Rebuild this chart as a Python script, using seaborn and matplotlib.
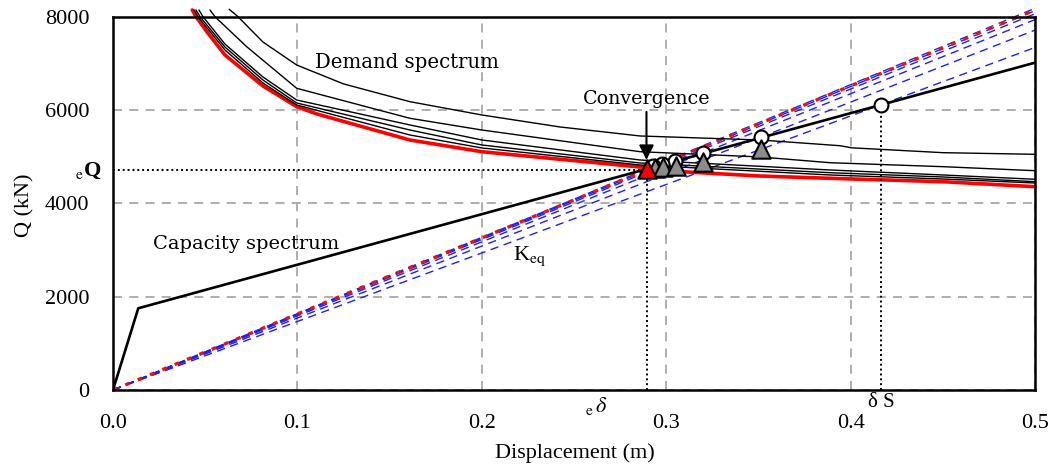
import numpy as np
import pandas as pd
import matplotlib
matplotlib.use("Agg")
import matplotlib.pyplot as plt
import seaborn as sns

# ---------------- data ----------------
cap_x = [0.0, 0.0137, 0.5]
cap_y = [0.0, 1751, 7015]

d1_x = [0.0630, 0.0678, 0.0813, 0.0996, 0.1250, 0.161, 0.200, 0.2424, 0.2858, 0.3509, 0.3943, 0.4006, 0.4501, 0.500]
d1_y = [8160, 8000, 7458, 6965, 6560, 6179, 5894, 5637, 5444, 5358, 5235, 5190, 5086, 5051]
d2_x = [0.0526, 0.0553, 0.0725, 0.0996, 0.161, 0.200, 0.2858, 0.3509, 0.3888, 0.4501, 0.500]
d2_y = [8144, 8000, 7357, 6466, 5823, 5572, 5107, 4994, 4871, 4786, 4700]
d3_x = [0.0466, 0.0488, 0.0607, 0.0813, 0.0996, 0.161, 0.200, 0.2858, 0.3888, 0.4501, 0.500]
d3_y = [8144, 8000, 7415, 6708, 6215, 5680, 5358, 4929, 4715, 4608, 4516]
d4_x = [0.0450, 0.0472, 0.0607, 0.0813, 0.0996, 0.161, 0.200, 0.2858, 0.3888, 0.4501, 0.500]
d4_y = [8144, 8000, 7351, 6644, 6151, 5572, 5251, 4865, 4657, 4565, 4464]
d5_x = [0.0440, 0.0461, 0.0607, 0.0813, 0.0996, 0.161, 0.200, 0.2858, 0.3888, 0.4501, 0.500]
d5_y = [8144, 8000, 7287, 6580, 6108, 5465, 5187, 4822, 4608, 4522, 4436]
red_x = [0.0430, 0.0450, 0.0510, 0.0607, 0.0813, 0.0996, 0.1106, 0.161, 0.200, 0.2858, 0.3113, 0.3509, 0.3888, 0.4501, 0.500]
red_y = [8144, 8000, 7673, 7180, 6515, 6072, 5915, 5358, 5107, 4779, 4672, 4586, 4537, 4464, 4357]

circ_x = [0.4165, 0.3514, 0.3200, 0.3048, 0.2977, 0.2928]
circ_y = [6115, 5420, 5080, 4915, 4840, 4790]
tri_x = [0.3514, 0.3200, 0.3053, 0.2983, 0.2939]
tri_y = [5165, 4887, 4801, 4780, 4758]
conv_x = [0.2896]
conv_y = [4736]

e_delta = 0.2897
e_Q = 4720
delta_s = 0.4165
delta_s_Q = 6115

x_ticks = [0.0, 0.1, 0.2, 0.3, 0.4, 0.5]
x_labels = ["0.0", "0.1", "0.2", "0.3", "0.4", "0.5"]
y_ticks = [0, 2000, 4000, 6000, 8000]
y_labels = ["0", "2000", "4000", "6000", "8000"]

# ---------------- figure ----------------
sns.set_theme(style="white")
plt.rcParams['font.family'] = ['Liberation Serif', 'DejaVu Serif']
plt.rcParams['mathtext.fontset'] = 'stix'
plt.rcParams['text.color'] = 'black'
plt.rcParams['axes.labelcolor'] = 'black'

fig = plt.figure(figsize=(10.53, 4.70), dpi=100)
ax = fig.add_axes([113/1053, 1-390/470, 922/1053, (390-16.7)/470])
ax.set_xlim(0, 0.5)
ax.set_ylim(0, 8000)

ax.set_axisbelow(True)
ax.grid(True, color='#a8a8a8', linestyle=(0, (5, 4)), linewidth=1.3)

# Keq lines
for cx, cy in zip(circ_x, circ_y):
    k = cy / cx
    sns.lineplot(x=[0.0, 0.5], y=[0.0, 0.5 * k], ax=ax, color='#2020ee', lw=1.0,
                 linestyle=(0, (6, 4)), clip_on=False, sort=False, estimator=None, zorder=3)
kr = e_Q / e_delta
sns.lineplot(x=[0.0, 0.5], y=[0.0, 0.5 * kr], ax=ax, color='#ee1010', lw=2.4,
             linestyle=(0, (1.4, 2.6)), clip_on=False, sort=False, estimator=None, zorder=3)

# demand curves
for xs, ys in [(d1_x, d1_y), (d2_x, d2_y), (d3_x, d3_y), (d4_x, d4_y), (d5_x, d5_y)]:
    sns.lineplot(x=xs, y=ys, ax=ax, color='black', lw=1.0, sort=False,
                 estimator=None, clip_on=False, zorder=4)
sns.lineplot(x=red_x, y=red_y, ax=ax, color='#ff0000', lw=2.6, sort=False,
             estimator=None, clip_on=False, zorder=3.9)

# capacity curve
sns.lineplot(x=cap_x, y=cap_y, ax=ax, color='black', lw=1.9, sort=False, estimator=None, zorder=5)

# dotted reference lines
ax.plot([0, e_delta], [e_Q, e_Q], color='black', lw=1.4, linestyle=(0, (1, 1.5)), zorder=4)
ax.plot([e_delta, e_delta], [0, e_Q], color='black', lw=1.4, linestyle=(0, (1, 1.5)), zorder=4)
ax.plot([delta_s, delta_s], [0, delta_s_Q], color='black', lw=1.4, linestyle=(0, (1, 1.5)), zorder=4)

# markers
sns.scatterplot(x=circ_x, y=circ_y, ax=ax, marker='o', s=100, color='white',
                edgecolor='black', linewidth=1.5, zorder=6)
sns.scatterplot(x=tri_x[::-1], y=tri_y[::-1], ax=ax, marker='^', s=175, color='#8c8c8c',
                edgecolor='black', linewidth=1.5, zorder=7)
sns.scatterplot(x=conv_x, y=conv_y, ax=ax, marker='^', s=175, color='#ff0000',
                edgecolor='black', linewidth=1.5, zorder=8)

# arrow
ax.annotate("", xy=(0.2893, 4930), xytext=(0.2893, 5960),
            arrowprops=dict(arrowstyle='-|>', color='black', lw=1.5, mutation_scale=22,
                            shrinkA=0, shrinkB=0), zorder=9)

# annotations
ann_font = ['DejaVu Serif']
ax.text(0.1095, 7010, "Demand spectrum", fontsize=14.2, family=ann_font, va='center', ha='left', color='black')
ax.text(0.0215, 3130, "Capacity spectrum", fontsize=14, family=ann_font, va='center', ha='left', color='black')
ax.text(0.2893, 6240, "Convergence", fontsize=13.7, family=ann_font, va='center', ha='center', color='black')
ax.text(0.217, 2870, r"K$_{\mathrm{eq}}$", fontsize=16, va='center', ha='left', color='black')
ax.text(-0.006, 4700, r"$_{\mathrm{e}}$Q", fontsize=16, va='center', ha='right', fontweight='bold', color='black')
ax.text(0.262, -340, r"$_{\mathrm{e}}\,\delta$", fontsize=16, va='center', ha='center', color='black')
ax.text(delta_s, -260, "δ S", fontsize=15, va='center', ha='center', color='black')

# ticks and frame
ax.set_xticks(x_ticks)
ax.set_xticklabels(x_labels)
ax.set_yticks(y_ticks)
ax.set_yticklabels(y_labels)
ax.tick_params(axis='both', length=0, labelsize=16, colors='black')
ax.tick_params(axis='x', pad=17)
ax.tick_params(axis='y', pad=17)
for sp in ax.spines.values():
    sp.set_color('black')
    sp.set_linewidth(1.8)
    sp.set_zorder(10)

ax.set_xlabel("")
ax.set_ylabel("")
fig.text(575/1053, 1-453/470, "Displacement (m)", fontsize=16, ha='center', va='center', color='black')
fig.text(25/1053, 1-205/470, "Q (kN)", fontsize=16, ha='center', va='center', rotation=90, color='black')

fig.savefig("out.png", dpi=100)
